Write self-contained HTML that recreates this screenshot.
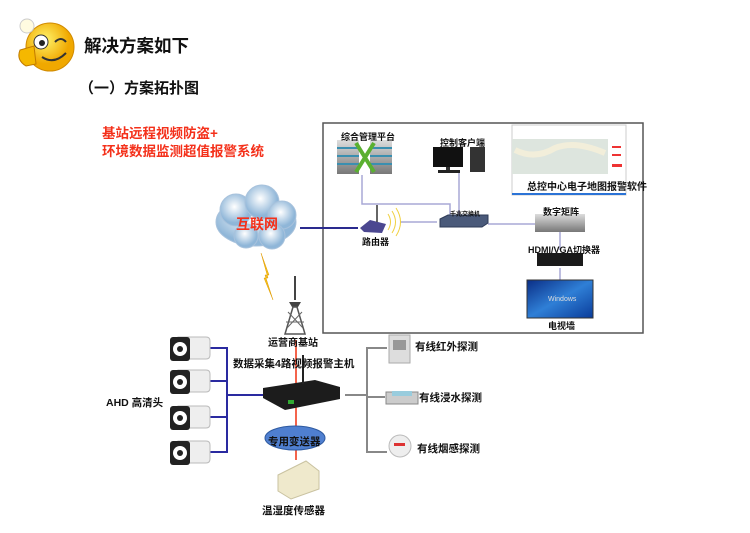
<!DOCTYPE html>
<html><head><meta charset="utf-8"><style>
body{margin:0;width:750px;height:533px;background:#fff;position:relative;overflow:hidden;font-family:"Liberation Sans","Noto Sans CJK SC",sans-serif}
.a{position:absolute}
.t{position:absolute;font-weight:bold;white-space:nowrap;color:#111}
.s{font-size:9px}
</style></head><body>
<svg class="a" style="left:0;top:0" width="750" height="533">
<defs>
<radialGradient id="sm" cx="40%" cy="35%"><stop offset="0" stop-color="#fff36a"/><stop offset="1" stop-color="#f0a800"/></radialGradient>
<radialGradient id="cl" cx="45%" cy="40%"><stop offset="0" stop-color="#ffffff"/><stop offset="1" stop-color="#8fb6d8"/></radialGradient>
<linearGradient id="tv" x1="0" y1="0" x2="1" y2="1"><stop offset="0" stop-color="#0a2e86"/><stop offset="0.5" stop-color="#2f7fd6"/><stop offset="1" stop-color="#0a3c9a"/></linearGradient>
<linearGradient id="gr" x1="0" y1="0" x2="0" y2="1"><stop offset="0" stop-color="#ddd"/><stop offset="1" stop-color="#777"/></linearGradient>
</defs>
<circle cx="50" cy="47" r="24" fill="url(#sm)" stroke="#d08a00"/>
<circle cx="27" cy="26" r="7" fill="#fffbe0" stroke="#ccc"/>
<path d="M20 50 q-4 10 6 16 l10-2 l-2-18 z" fill="#f5b800" stroke="#c07a00"/>
<circle cx="41" cy="42" r="7" fill="#fff" stroke="#333"/><circle cx="42" cy="43" r="3" fill="#222"/>
<path d="M55 42 q6-6 11 0" stroke="#333" stroke-width="2" fill="none"/>
<path d="M42 57 q12 8 24-4" stroke="#333" stroke-width="2" fill="none"/>
<rect x="323" y="123" width="320" height="210" fill="none" stroke="#555" stroke-width="1.5"/>
<g stroke="#a9a8d6" stroke-width="1.5" fill="none">
<path d="M362 175 V204 H450 V216"/><path d="M459 172 V216"/><path d="M400 222 H437"/><path d="M488 224 H535"/><path d="M560 232 V250"/><path d="M560 268 V280"/>
</g>
<path d="M300 228 H358" stroke="#2a2a8e" stroke-width="2"/>
<g fill="url(#cl)" stroke="#a8c2dc">
<ellipse cx="256" cy="222" rx="40" ry="24"/><circle cx="236" cy="210" r="16"/><circle cx="262" cy="202" r="17"/><circle cx="282" cy="215" r="14"/><circle cx="246" cy="236" r="12"/><circle cx="272" cy="236" r="13"/>
</g>
<path d="M261 253 l8 22 l-4 0 l8 25 l-9-22 l4 0 z" fill="#f6c21a" stroke="#e09a00" stroke-width=".5"/>
<path d="M295 276 V300" stroke="#444" stroke-width="2"/>
<path d="M289 302 h12 l-3 5 h-6 z" fill="#444"/>
<path d="M293 307 L285 334 H305 L297 307 z" fill="none" stroke="#555" stroke-width="1.5"/>
<path d="M287 328 L302 312 M303 328 L288 312 M286 322 H304" stroke="#666"/>
<rect x="337" y="140" width="22" height="34" fill="url(#gr)"/><rect x="370" y="140" width="22" height="34" fill="url(#gr)"/>
<g stroke="#3a8fb0" stroke-width="2"><path d="M337 148h22M337 156h22M337 164h22M370 148h22M370 156h22M370 164h22"/></g>
<path d="M356 143 L374 172 M374 143 L356 172" stroke="#5ab030" stroke-width="4"/>
<rect x="433" y="147" width="30" height="20" fill="#111"/><rect x="446" y="167" width="4" height="3" fill="#333"/><rect x="438" y="170" width="22" height="3" fill="#222"/>
<rect x="470" y="147" width="15" height="25" fill="#333"/>
<rect x="512" y="125" width="114" height="70" fill="#fff" stroke="#ccc"/>
<rect x="512" y="139" width="96" height="35" fill="#dde5de"/><path d="M515 150 q20 10 40-2 q20-8 50 5" stroke="#f2eeda" stroke-width="6" fill="none"/>
<rect x="610" y="140" width="14" height="34" fill="#fff"/><g fill="#e33"><rect x="612" y="146" width="9" height="2"/><rect x="612" y="154" width="9" height="2"/><rect x="612" y="164" width="10" height="3"/></g>
<rect x="512" y="193" width="114" height="2" fill="#2b73d6"/>
<path d="M360 228 l10-8 l16 4 l-4 9 l-18-1 z" fill="#4b4790"/><path d="M377 222 V205" stroke="#333" stroke-width="1.5"/>
<path d="M388 214 q5 8 0 16 M392 211 q7 11 0 22 M396 208 q9 14 0 28" stroke="#f0d040" fill="none"/>
<path d="M440 219 l8-4 h40 v8 l-6 4 h-42 z" fill="#4a5a7a" stroke="#2e3b57"/>
<rect x="535" y="214" width="50" height="18" fill="url(#gr)"/>
<rect x="537" y="253" width="46" height="13" fill="#1a1a1a"/>
<rect x="527" y="280" width="66" height="38" fill="url(#tv)" stroke="#333"/>
<text x="548" y="301" font-size="7" fill="#ddd" font-family="Liberation Sans">Windows</text>
<path d="M296 340 V460" stroke="#f03010" stroke-width="1.5"/>
<g stroke="#2a2aa0" stroke-width="2" fill="none"><path d="M208 348 H227 V452 H208 M208 381 H227 M208 417 H227 M227 395 H263"/></g>
<g stroke="#888" stroke-width="2" fill="none"><path d="M345 395 H367 M387 348 H367 V452 H387 M367 397 H385"/></g>
<g id="cam">
<path d="M178 337 h28 q4 0 4 4 v14 q0 4 -4 4 h-28 z" fill="#eee" stroke="#bbb"/>
<rect x="170" y="337" width="20" height="24" rx="3" fill="#222"/><circle cx="180" cy="349" r="7" fill="#fff"/><circle cx="180" cy="349" r="3" fill="#222"/>
</g>
<use href="#cam" y="33"/><use href="#cam" y="69"/><use href="#cam" y="104"/>
<path d="M263 388 l52-8 l25 7 v12 l-55 11 l-22-12 z" fill="#1c1c1c"/><path d="M303 384 V355" stroke="#222" stroke-width="2"/>
<rect x="288" y="400" width="6" height="4" fill="#3a3"/>
<ellipse cx="295" cy="438" rx="30" ry="12" fill="#4f7fd0" stroke="#2e5aa0"/>
<path d="M278 475 l28-14 l13 10 v18 l-28 10 l-13-8 z" fill="#efe9cc" stroke="#c9c2a0"/>
<rect x="389" y="335" width="21" height="28" fill="#ddd" stroke="#aaa"/><rect x="393" y="340" width="13" height="10" fill="#999"/>
<path d="M386 392 h32 v12 h-32 z" fill="#ccc" stroke="#888"/><rect x="392" y="391" width="20" height="5" fill="#9cd"/>
<circle cx="400" cy="446" r="11" fill="#eee" stroke="#bbb"/><rect x="394" y="443" width="11" height="3" fill="#d33"/>
</svg>
<div class="t" style="left:84px;top:33px;font-size:17.5px">解决方案如下</div>
<div class="t" style="left:79px;top:77px;font-size:15px">（一）方案拓扑图</div>
<div class="t" style="left:102px;top:125px;font-size:13.5px;color:#f4301a;line-height:18px">基站远程视频防盗+<br>环境数据监测超值报警系统</div>
<div class="t" style="left:236px;top:214px;font-size:14px;color:#f4301a">互联网</div>
<div class="t s" style="left:341px;top:130px">综合管理平台</div>
<div class="t s" style="left:440px;top:136px">控制客户端</div>
<div class="t s" style="left:527px;top:178px;font-size:10px">总控中心电子地图报警软件</div>
<div class="t" style="left:450px;top:209px;font-size:6px">千兆交换机</div>
<div class="t s" style="left:362px;top:235px">路由器</div>
<div class="t s" style="left:543px;top:205px">数字矩阵</div>
<div class="t s" style="left:528px;top:243px">HDMI/VGA切换器</div>
<div class="t s" style="left:548px;top:319px">电视墙</div>
<div class="t s" style="left:268px;top:334px;font-size:10px">运营商基站</div>
<div class="t" style="left:233px;top:356px;font-size:10.5px">数据采集4路视频报警主机</div>
<div class="t" style="left:106px;top:395px;font-size:10.5px">AHD 高清头</div>
<div class="t" style="left:268px;top:434px;font-size:10.5px">专用变送器</div>
<div class="t" style="left:262px;top:503px;font-size:10.5px">温湿度传感器</div>
<div class="t" style="left:415px;top:339px;font-size:10.5px">有线红外探测</div>
<div class="t" style="left:419px;top:390px;font-size:10.5px">有线浸水探测</div>
<div class="t" style="left:417px;top:441px;font-size:10.5px">有线烟感探测</div>
</body></html>
